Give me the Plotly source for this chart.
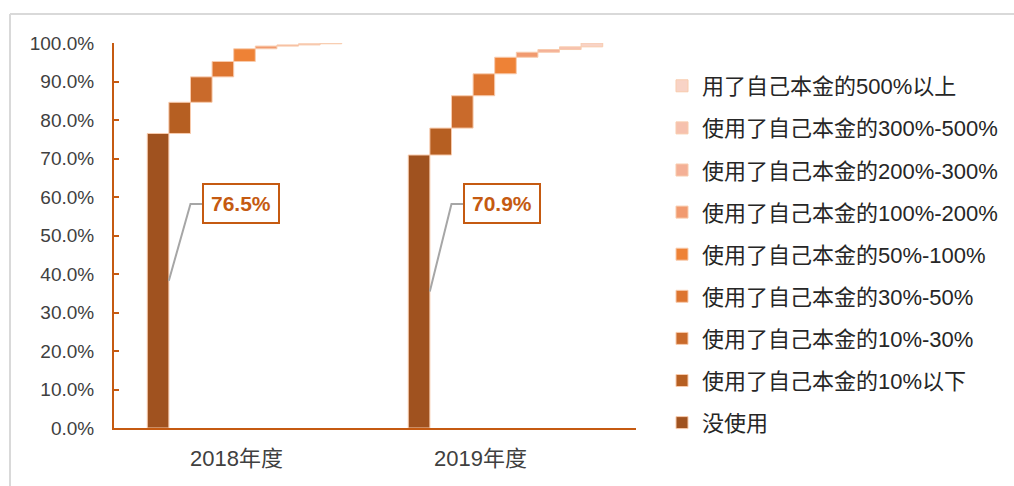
import plotly.graph_objects as go

categories = ["2018年度", "2019年度"]
series_names = [
    "没使用",
    "使用了自己本金的10%以下",
    "使用了自己本金的10%-30%",
    "使用了自己本金的30%-50%",
    "使用了自己本金的50%-100%",
    "使用了自己本金的100%-200%",
    "使用了自己本金的200%-300%",
    "使用了自己本金的300%-500%",
    "用了自己本金的500%以上",
]
# share (%) per category for each series
values_2018 = [76.5, 8.1, 6.6, 4.0, 3.3, 0.7, 0.3, 0.3, 0.2]
values_2019 = [70.9, 7.0, 8.4, 5.7, 4.3, 1.3, 0.7, 0.7, 1.0]
colors = ["#A0521F", "#B65F22", "#C96A2B", "#DD7530", "#EE8236",
          "#F19A6F", "#F4B096", "#F6C1AE", "#F8D3C6"]

AX = "#C55A11"
W, H = 1014, 486
ML, MR, MT, MB = 114, 378, 43, 58

fig = go.Figure()
cum18, cum19 = 0.0, 0.0
n = len(series_names)
for i, name in enumerate(series_names):
    v = [values_2018[i] / 100, values_2019[i] / 100]
    base = [cum18 / 100, cum19 / 100]
    fig.add_trace(go.Bar(
        x=categories, y=v, base=base, name=name,
        marker=dict(color=colors[i], line=dict(color="#F8CBAD", width=1)),
        legendgroup=name, legendrank=n - i, hoverinfo="skip",
    ))
    cum18 += values_2018[i]
    cum19 += values_2019[i]

font_main = "Liberation Sans, Arial, Noto Sans CJK SC, sans-serif"

shapes = []
annotations = []
first = [values_2018[0], values_2019[0]]
for ci, val in enumerate(first):
    v = val / 100
    shapes.append(dict(
        type="path", xref="x", yref="y",
        path=f"M {ci - 0.29},{v * 0.5} L {ci - 0.207},0.582 L {ci - 0.163},0.582",
        line=dict(color="#A6A6A6", width=2),
    ))
    annotations.append(dict(
        x=ci - 0.163, y=0.582, xref="x", yref="y", xanchor="left", yanchor="middle",
        text=f"<b>{val:.1f}%</b>", showarrow=False,
        font=dict(family=font_main, size=21, color=AX),
        bordercolor=AX, borderwidth=2, borderpad=7, bgcolor="white",
    ))

# x category labels
for ci, (cat, sh) in enumerate(zip(categories, [-8, -25])):
    annotations.append(dict(
        x=ci, y=0, xref="x", yref="paper", xshift=sh, yshift=-30,
        text=cat, showarrow=False, yanchor="middle",
        font=dict(family=font_main, size=22, color="#404040"),
    ))

# outer frame (top & left)
pw = W - ML - MR
ph = H - MT - MB
x0 = (10 - ML) / pw
x1 = (W - ML) / pw
ytop = (H - MB - 14) / ph
ybot = (H - MB - H) / ph
shapes.append(dict(type="line", xref="paper", yref="paper", x0=x0, x1=x1, y0=ytop, y1=ytop,
                   line=dict(color="#D9D9D9", width=2)))
shapes.append(dict(type="line", xref="paper", yref="paper", x0=x0, x1=x0, y0=ytop, y1=ybot,
                   line=dict(color="#D9D9D9", width=2)))

fig.update_layout(
    width=W, height=H,
    margin=dict(l=ML, r=MR, t=MT, b=MB),
    paper_bgcolor="white", plot_bgcolor="white",
    barmode="group", bargap=0.255, bargroupgap=0,
    font=dict(family=font_main, color="#404040"),
    showlegend=True,
    legend=dict(
        xref="container", yref="container", x=662 / W, y=1 - 65 / H,
        xanchor="left", yanchor="top",
        traceorder="grouped", tracegroupgap=10.5, maxheight=470,
        font=dict(family=font_main, size=22, color="#262626"),
        bgcolor="rgba(0,0,0,0)",
    ),
    shapes=shapes,
    annotations=annotations,
)
fig.update_yaxes(
    range=[0, 1], tickformat=".1%", dtick=0.1,
    showline=True, linecolor=AX, linewidth=2,
    ticks="inside", ticklen=5, tickcolor=AX, tickwidth=2,
    showgrid=False, zeroline=False,
    ticklabelstandoff=14,
    tickfont=dict(family=font_main, size=19, color="#404040"),
)
fig.update_xaxes(
    showline=True, linecolor=AX, linewidth=2,
    showticklabels=False, ticks="", showgrid=False,
)

fig.write_html("out.html")
